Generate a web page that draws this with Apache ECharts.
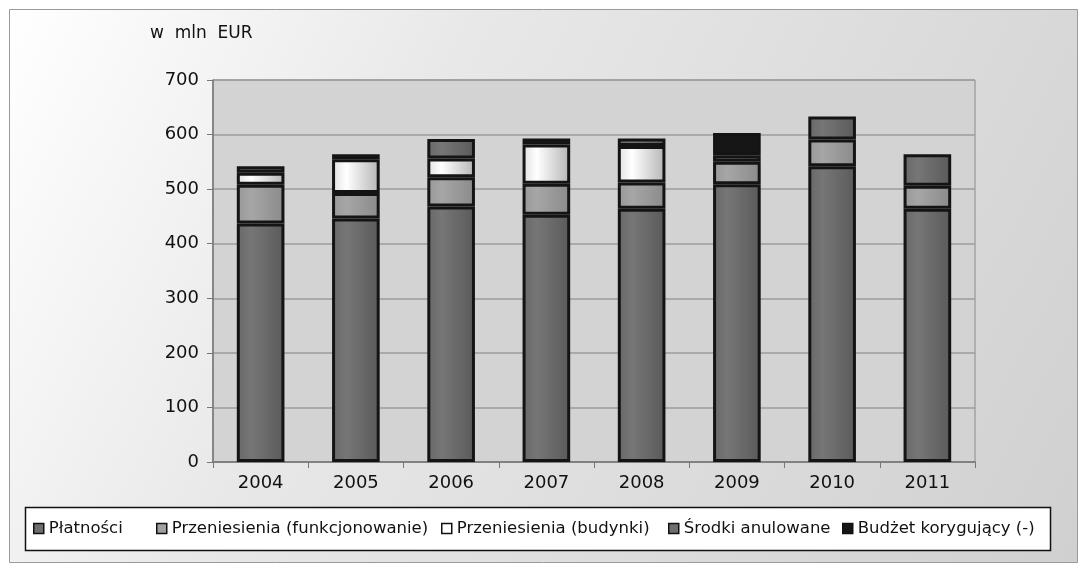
<!DOCTYPE html>
<html>
<head>
<meta charset="utf-8">
<script src="https://cdn.jsdelivr.net/npm/echarts@6/dist/echarts.min.js"></script>
<style>
html, body { margin: 0; padding: 0; background: #fff; }
#main { width: 1080px; height: 565px; }
</style>
</head>
<body>
<div id="main"></div>
<script>
var years = ['2004', '2005', '2006', '2007', '2008', '2009', '2010', '2011']
var platnosci = [437, 446, 468, 453, 464, 509, 542, 464]
var funkcjonowanie = [71, 47, 54, 57, 48, 41, 49, 42]
var budynki = [22, 62, 34, 72, 67, '-', '-', '-']
var srodki = [12, 9, 36, 11, 14, 12, 42, 58]
var budzet = ['-', '-', '-', '-', '-', 41, '-', '-']
var yTicks = [0, 100, 200, 300, 400, 500, 600, 700]

var FONT = 'DejaVu Sans'

function grad (c1, c2, c3) {
    return new echarts.graphic.LinearGradient(0, 0, 1, 0, [
        { offset: 0, color: c1 },
        { offset: 0.3, color: c2 },
        { offset: 1, color: c3 }
    ])
}

var darkFill = grad('#686868', '#767676', '#5a5a5a')
var midFill = grad('#989898', '#a6a6a6', '#8a8a8a')
var whiteFill = grad('#e0e0e0', '#ffffff', '#b4b4b4')
var blackFill = '#161616'

function bar (name, data, fill) {
    return {
        name: name,
        type: 'bar',
        stack: 'a',
        barWidth: '50%',
        data: data,
        itemStyle: { color: fill, borderColor: '#141414', borderWidth: 3 }
    }
}

var legendNames = ['Płatności', 'Przeniesienia (funkcjonowanie)', 'Przeniesienia (budynki)', 'Środki anulowane', 'Budżet korygujący (-)']
var legendLeft = [33, 156, 441, 668, 842]
var legendColors = ['#6e6e6e', '#a0a0a0', '#ffffff', '#6e6e6e', '#161616']

var legends = legendNames.map(function (n, i) {
    return {
        data: [{ name: n, itemStyle: { color: legendColors[i], borderColor: '#111', borderWidth: 1.5 } }],
        left: legendLeft[i],
        top: 520,
        padding: 0,
        icon: 'rect',
        itemWidth: 10,
        itemHeight: 10,
        itemGap: 0,
        textStyle: { fontFamily: FONT, fontSize: 16.5, color: '#111', padding: [0, 0, 0, 0] },
        selectedMode: false
    }
})

var option = {
    animation: false,
    graphic: [
        {
            type: 'rect',
            shape: { x: 9.5, y: 9.5, width: 1068, height: 553 },
            style: {
                fill: new echarts.graphic.LinearGradient(0, 0, 1, 1, [
                    { offset: 0, color: '#ffffff' },
                    { offset: 0.35, color: '#e8e8e8' },
                    { offset: 1, color: '#d0d0d0' }
                ]),
                stroke: '#9a9a9a',
                lineWidth: 1
            },
            z: -10
        },
        {
            type: 'rect',
            shape: { x: 25.5, y: 507.5, width: 1025, height: 43 },
            style: { fill: '#ffffff', stroke: '#111', lineWidth: 1.5 },
            z: -5
        },
        {
            type: 'text',
            left: 150,
            top: 25,
            style: { text: 'w  mln  EUR', fontFamily: FONT, fontSize: 17, fill: '#111' }
        }
    ],
    legend: legends,
    grid: {
        left: 213,
        right: 105,
        top: 80,
        bottom: 103,
        show: true,
        backgroundColor: '#d3d3d3',
        borderColor: '#8a8a8a',
        borderWidth: 1
    },
    xAxis: {
        type: 'category',
        data: years,
        axisLine: { lineStyle: { color: '#777', width: 1.5 } },
        axisTick: { show: true, length: 6, lineStyle: { color: '#777' } },
        axisLabel: { fontFamily: FONT, fontSize: 18, color: '#111', margin: 12 }
    },
    yAxis: {
        type: 'value',
        min: 0,
        max: 700,
        interval: 100,
        axisLine: { show: true, lineStyle: { color: '#777', width: 1.5 } },
        axisTick: { show: true, length: 6, lineStyle: { color: '#777' } },
        axisLabel: {
            fontFamily: FONT,
            fontSize: 18,
            color: '#111',
            margin: 14,
            formatter: function (v) { return yTicks.indexOf(v) >= 0 ? String(v) : '' }
        },
        splitLine: { lineStyle: { color: '#9c9c9c', width: 1.5 } }
    },
    series: [
        bar(legendNames[0], platnosci, darkFill),
        bar(legendNames[1], funkcjonowanie, midFill),
        bar(legendNames[2], budynki, whiteFill),
        bar(legendNames[3], srodki, darkFill),
        bar(legendNames[4], budzet, blackFill)
    ]
}

var myChart = echarts.init(document.getElementById('main'))
myChart.setOption(option)
</script>
</body>
</html>
